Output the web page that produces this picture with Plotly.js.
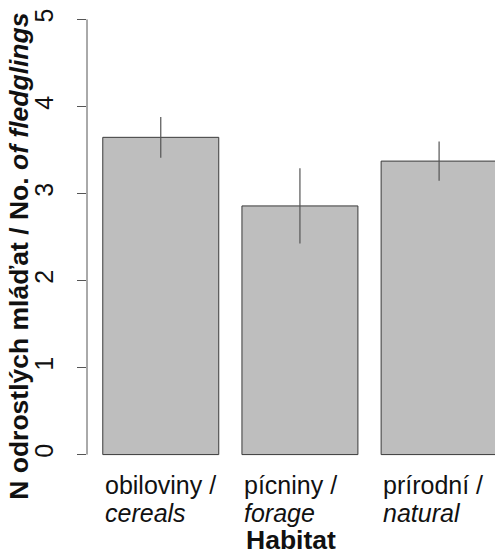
<!DOCTYPE html>
<html>
<head>
<meta charset="utf-8">
<script src="https://cdn.plot.ly/plotly-3.0.1.min.js"></script>
<style>
  html, body { margin: 0; padding: 0; background: #ffffff; }
  #chart { width: 495px; height: 554px; }
</style>
</head>
<body>
<div id="chart"></div>
<script>
// Habitat categories (Czech / English) and fledgling counts
const habitatCz = ['obiloviny /', 'pícniny /', 'prírodní /'];
const habitatEn = ['cereals', 'forage', 'natural'];
const barPos = [0.7, 1.9, 3.1];          // barplot midpoints (width 1, space 0.2)
const meanFledglings = [3.645, 2.857, 3.372];
const seFledglings = [0.235, 0.432, 0.225];
const yTicks = [0, 1, 2, 3, 4, 5];

const FONT = 'Liberation Sans, Arial, Helvetica, sans-serif';
const AXIS_COLOR = '#555555';
const BAR_WIDTH = 1;

const bars = {
  type: 'bar',
  x: barPos,
  y: meanFledglings,
  width: BAR_WIDTH,
  marker: { color: '#BEBEBE', line: { color: '#3a3a3a', width: 1 } },
  error_y: {
    type: 'data',
    array: seFledglings,
    visible: true,
    width: 0,
    thickness: 1.2,
    color: '#555555'
  },
  hoverinfo: 'skip'
};

// category labels: first line upright (Czech), second line italic (English),
// both left-aligned at the left edge of their bar
const annotations = [];
habitatCz.forEach((lbl, i) => {
  annotations.push({
    x: barPos[i] - BAR_WIDTH / 2, xref: 'x', y: 0, yref: 'paper',
    xanchor: 'left', yanchor: 'top', align: 'left',
    text: lbl, showarrow: false,
    font: { family: FONT, size: 25, color: '#111111' },
    yshift: 3, xshift: 0
  });
  annotations.push({
    x: barPos[i] - BAR_WIDTH / 2, xref: 'x', y: 0, yref: 'paper',
    xanchor: 'left', yanchor: 'top', align: 'left',
    text: '<i>' + habitatEn[i] + '</i>', showarrow: false,
    font: { family: FONT, size: 25, color: '#111111' },
    yshift: -25.3, xshift: 0
  });
});
// axis titles
annotations.push({
  x: 0.5, xref: 'paper', y: 0, yref: 'paper',
  xanchor: 'center', yanchor: 'top',
  text: '<b>Habitat</b>', showarrow: false,
  font: { family: FONT, size: 26.5, color: '#111111' },
  yshift: -51
});
annotations.push({
  x: -0.16667, xref: 'paper', y: 0.46, yref: 'paper',
  xanchor: 'center', yanchor: 'middle', textangle: -90,
  text: '<b>N odrostlých mláďat / No. <i>of fledglings</i></b>', showarrow: false,
  font: { family: FONT, size: 26.5, color: '#111111' }
});

const layout = {
  width: 495, height: 554,
  margin: { l: 87, r: 0, t: 2, b: 82, pad: 0 },
  paper_bgcolor: '#ffffff', plot_bgcolor: '#ffffff',
  showlegend: false,
  font: { family: FONT, color: '#111111' },
  xaxis: {
    range: [0.064, 3.582],
    showgrid: false, zeroline: false, showline: false,
    showticklabels: false, ticks: '', fixedrange: true
  },
  yaxis: {
    range: [-0.2, 5.2],
    tickvals: yTicks, ticktext: yTicks.map(String),
    ticks: 'outside', ticklen: 9, tickwidth: 1, tickcolor: AXIS_COLOR,
    tickangle: -90, ticklabelstandoff: 14,
    tickfont: { family: FONT, size: 25, color: '#111111' },
    showgrid: false, zeroline: false, showline: false, fixedrange: true
  },
  shapes: [{
    type: 'line', xref: 'paper', x0: 0, x1: 0,
    yref: 'y', y0: yTicks[0], y1: yTicks[yTicks.length - 1],
    line: { color: AXIS_COLOR, width: 1 }
  }],
  annotations: annotations
};

Plotly.newPlot('chart', [bars], layout, { staticPlot: true, displayModeBar: false });
</script>
</body>
</html>
